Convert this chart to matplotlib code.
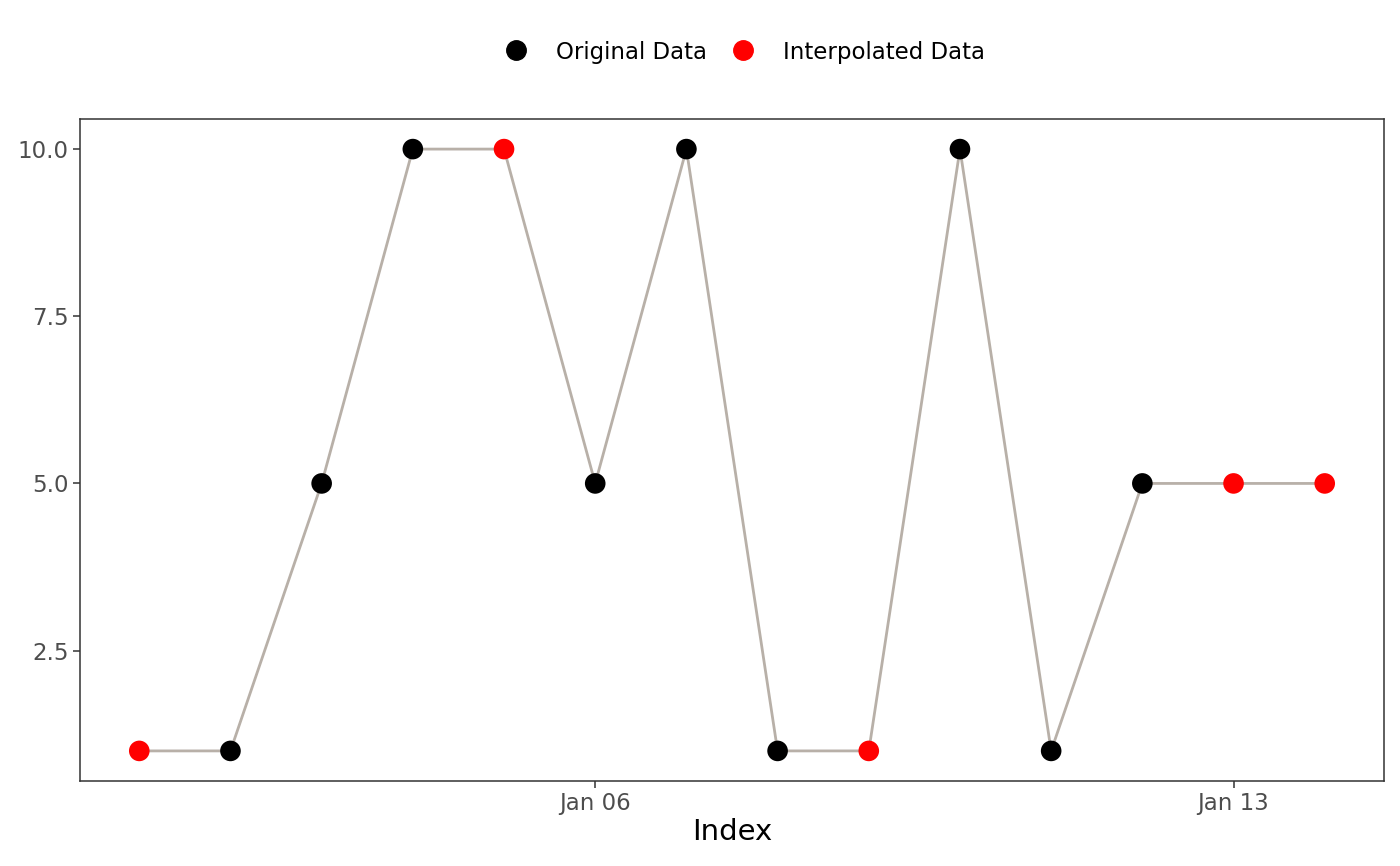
import numpy as np
import pandas as pd
import matplotlib.pyplot as plt
import matplotlib.dates as mdates
from matplotlib.lines import Line2D

dates = pd.date_range("2024-01-01", periods=14, freq="D")
values = [1, 1, 5, 10, 10, 5, 10, 1, 1, 10, 1, 5, 5, 5]
interpolated = [True, False, False, False, True, False, False,
                False, True, False, False, False, True, True]

plt.rcParams['font.family'] = ['DejaVu Sans']

fig = plt.figure(figsize=(14, 8.66), dpi=100)
ax = fig.add_axes([80 / 1400, 1 - 781 / 866, 1304 / 1400, 662 / 866])

ax.plot(dates, values, color='#b8b0a8', lw=2, zorder=1)
cols = ['red' if f else 'black' for f in interpolated]
ax.scatter(dates, values, c=cols, s=220, zorder=2, linewidths=0)

span = (dates[-1] - dates[0]) * 0.05
ax.set_xlim(dates[0] - span, dates[-1] + span)
ax.set_ylim(1 - 9 * 0.05, 10 + 9 * 0.05)

ax.xaxis.set_major_locator(mdates.DayLocator(bymonthday=[6, 13]))
ax.xaxis.set_major_formatter(mdates.DateFormatter('%b %d'))
ax.set_yticks([2.5, 5.0, 7.5, 10.0])
ax.yaxis.set_major_formatter(plt.FormatStrFormatter('%.1f'))
ax.tick_params(labelsize=16.5, colors='#4d4d4d', length=5, width=1.1, pad=3)
ax.tick_params(axis='both', color='#333333')
for s in ax.spines.values():
    s.set_color('#333333')
    s.set_linewidth(1.1)
ax.set_xlabel('Index', fontsize=21, labelpad=2)

handles = [Line2D([], [], ls='', marker='o', color='black', markersize=14, label='Original Data'),
           Line2D([], [], ls='', marker='o', color='red', markersize=14, label='Interpolated Data')]
fig.legend(handles=handles, loc='center', bbox_to_anchor=(739 / 1400, 1 - 52 / 866), ncol=2,
           frameon=False, fontsize=16.5, handlelength=2, handletextpad=0.75,
           columnspacing=0.55)

fig.savefig('out.png', dpi=100)
